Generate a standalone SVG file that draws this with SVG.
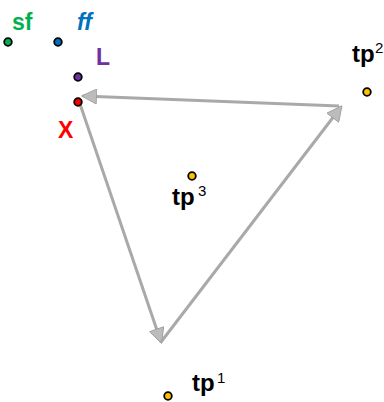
<svg xmlns="http://www.w3.org/2000/svg" width="384" height="402" viewBox="0 0 384 402">
<style>
.lbl{font-family:"Liberation Sans",Arial,sans-serif;font-weight:bold;font-size:23px}
.tp{font-family:"Liberation Sans",Arial,sans-serif;font-weight:bold;font-size:24px;fill:#000}
.sup{font-family:"Liberation Sans",Arial,sans-serif;font-size:15px;fill:#000}
.dot{stroke:#000;stroke-width:1.8}
.edge{fill:none;stroke:#a9a9a9;stroke-width:3}
</style>
<defs>
<marker id="ah" viewBox="0 0 10 10" refX="9" refY="5" markerWidth="5.5" markerHeight="5" orient="auto" markerUnits="strokeWidth">
<path d="M0,0 L10,5 L0,10 Z" fill="#bcbcbc" stroke="#a0a0a0" stroke-width="0.6"/>
</marker>
</defs>
<rect width="384" height="402" fill="#fff"/>
<g id="connectors">
<path class="edge" d="M80,104 L161,342" marker-end="url(#ah)"/>
<path class="edge" d="M161,342 L341,107" marker-end="url(#ah)"/>
<path class="edge" d="M339,106 L83,96" marker-end="url(#ah)"/>
</g>
<g id="sf"><circle class="dot" cx="8" cy="42" r="3.8" fill="#00b050"/><text class="lbl" x="12" y="30" fill="#00b050">sf</text></g>
<g id="ff"><circle class="dot" cx="58" cy="42" r="3.8" fill="#0070c0"/><text class="lbl" x="77" y="30" fill="#0070c0" font-style="italic">ff</text></g>
<g id="L"><circle class="dot" cx="78" cy="77" r="3.8" fill="#7030a0"/><text class="lbl" x="96" y="65" fill="#7030a0">L</text></g>
<g id="X"><circle class="dot" cx="78" cy="102" r="3.8" fill="#ff0000"/><text class="lbl" x="58" y="138" fill="#ff0000">X</text></g>
<g id="tp2"><circle class="dot" cx="367" cy="92" r="3.8" fill="#ffc000"/><text class="tp" x="352" y="62">tp</text><text class="sup" x="375" y="53">2</text></g>
<g id="tp3"><circle class="dot" cx="192" cy="176" r="3.8" fill="#ffc000"/><text class="tp" x="172" y="205">tp</text><text class="sup" x="198" y="196">3</text></g>
<g id="tp1"><circle class="dot" cx="168" cy="396" r="3.8" fill="#ffc000"/><text class="tp" x="192" y="391">tp</text><text class="sup" x="217" y="383">1</text></g>
</svg>
